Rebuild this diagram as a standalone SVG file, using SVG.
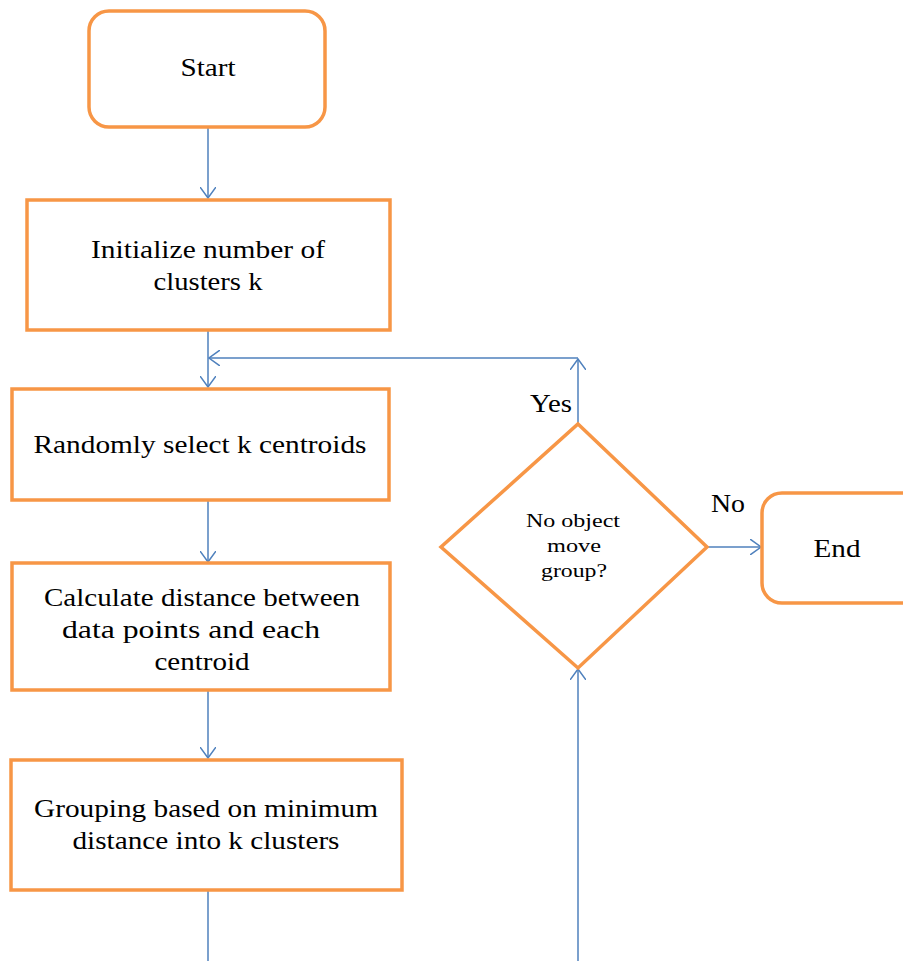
<svg xmlns="http://www.w3.org/2000/svg" width="903" height="961" viewBox="0 0 903 961">
<style>
.box{fill:#fff;stroke:#F79646;stroke-width:3.5}
.t{font-family:"Liberation Serif","Times New Roman",serif;font-size:26px;fill:#000;text-anchor:middle}
.s{font-family:"Liberation Serif","Times New Roman",serif;font-size:18px;fill:#000;text-anchor:middle}
.c{fill:none;stroke:#4F81BD;stroke-width:1.5}
</style>
<defs>
<marker id="ah" viewBox="0 0 12 16" refX="11" refY="8" markerWidth="12" markerHeight="16" markerUnits="userSpaceOnUse" orient="auto">
<path d="M0,0 L11,8 L0,16" fill="none" stroke="#4F81BD" stroke-width="1.5"/>
</marker>
</defs>
<g id="connectors">
<path class="c" d="M208,127 V198" marker-end="url(#ah)"/>
<path class="c" d="M208,330 V387" marker-end="url(#ah)"/>
<path class="c" d="M208,500 V562" marker-end="url(#ah)"/>
<path class="c" d="M208,690 V758" marker-end="url(#ah)"/>
<path class="c" d="M208,890 V961"/>
<path class="c" d="M578,961 V669" marker-end="url(#ah)"/>
<path class="c" d="M578,424 V359" marker-end="url(#ah)"/>
<path class="c" d="M578,358 H209" marker-end="url(#ah)"/>
<path class="c" d="M707,547 H761" marker-end="url(#ah)"/>
<text class="t" x="551" y="412" textLength="42" lengthAdjust="spacingAndGlyphs">Yes</text>
<text class="t" x="728" y="512" textLength="34" lengthAdjust="spacingAndGlyphs">No</text>
</g>
<g id="start">
<rect class="box" x="89" y="11" width="236" height="116" rx="20"/>
<text class="t" x="208" y="76" textLength="55" lengthAdjust="spacingAndGlyphs">Start</text>
</g>
<g id="init">
<rect class="box" x="27" y="200" width="363" height="130"/>
<text class="t" x="208" y="258" textLength="234" lengthAdjust="spacingAndGlyphs">Initialize number of</text>
<text class="t" x="208" y="290" textLength="109" lengthAdjust="spacingAndGlyphs">clusters k</text>
</g>
<g id="random">
<rect class="box" x="12" y="389" width="377" height="111"/>
<text class="t" x="200" y="453" textLength="333" lengthAdjust="spacingAndGlyphs">Randomly select k centroids</text>
</g>
<g id="calc">
<rect class="box" x="12" y="563" width="378" height="127"/>
<text class="t" x="202" y="606" textLength="316" lengthAdjust="spacingAndGlyphs">Calculate distance between</text>
<text class="t" x="191" y="638" textLength="258" lengthAdjust="spacingAndGlyphs">data points and each</text>
<text class="t" x="202" y="670" textLength="95" lengthAdjust="spacingAndGlyphs">centroid</text>
</g>
<g id="group">
<rect class="box" x="11" y="760" width="391" height="130"/>
<text class="t" x="206" y="817" textLength="344" lengthAdjust="spacingAndGlyphs">Grouping based on minimum</text>
<text class="t" x="206" y="849" textLength="267" lengthAdjust="spacingAndGlyphs">distance into k clusters</text>
</g>
<g id="decision">
<polygon class="box" points="578,424 707,547 578,668 441,547"/>
<text class="s" x="573" y="527" textLength="94" lengthAdjust="spacingAndGlyphs">No object</text>
<text class="s" x="574" y="552" textLength="54" lengthAdjust="spacingAndGlyphs">move</text>
<text class="s" x="574" y="577" textLength="66" lengthAdjust="spacingAndGlyphs">group?</text>
</g>
<g id="end">
<rect class="box" x="762" y="493" width="160" height="110" rx="20"/>
<text class="t" x="837" y="557" textLength="47" lengthAdjust="spacingAndGlyphs">End</text>
</g>
</svg>
